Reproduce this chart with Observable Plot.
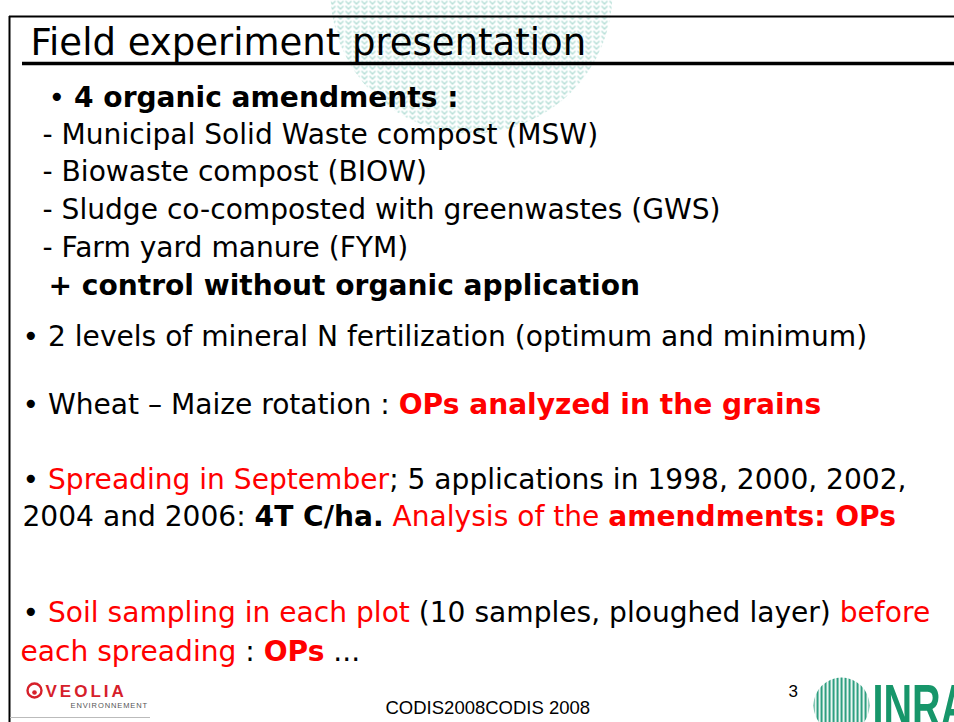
<!DOCTYPE html>
<html><head><meta charset="utf-8">
<script src="https://cdn.jsdelivr.net/npm/d3@7"></script>
<script src="https://cdn.jsdelivr.net/npm/@observablehq/plot@0.6"></script>
<style>body{margin:0;background:#fff;overflow:hidden} svg{display:block}</style>
</head><body><div id="chart"></div>
<script>
// ---------- slide content ----------
const titleText = "Field experiment presentation";
const amendmentHeader = "4 organic amendments :";
const amendments = [
  "Municipal Solid Waste compost (MSW)",
  "Biowaste compost (BIOW)",
  "Sludge co-composted with greenwastes (GWS)",
  "Farm yard manure (FYM)"
];
const controlText = "+ control without organic application";
// segments: [text, style]  k = black, kb = black bold, r = red, rb = red bold
const bulletLines = [
  [["• ", "k"], ["2 levels of mineral N fertilization (optimum and minimum)", "k"]],
  [["• Wheat – Maize rotation : ", "k"], ["OPs analyzed in the grains", "rb"]],
  [["• ", "k"], ["Spreading in September", "r"], ["; 5 applications in 1998, 2000, 2002,", "k"]],
  [["2004 and 2006: ", "k"], ["4T C/ha.", "kb"], [" Analysis of the ", "r"], ["amendments: OPs", "rb"]],
  [["• ", "k"], ["Soil sampling in each plot", "r"], [" (10 samples, ploughed layer) ", "k"], ["before", "r"]],
  [["each spreading", "r"], [" : ", "k"], ["OPs", "rb"], [" ...", "k"]]
];
const footerText = "CODIS2008CODIS 2008";
const pageNumber = "3";
const veoliaName = "VEOLIA";
const veoliaSub = "ENVIRONNEMENT";
const inraName = "INRA";

// ---------- layout (slide pixels) ----------
const W = 954, H = 722;
const bodySize = 28.1, titleSize = 37;
const bodyFont = "DejaVu Sans";
const lineLayout = [
  {x: 48, y: 106},   // header
  {x: 42, y: 143}, {x: 42, y: 180.5}, {x: 42, y: 218}, {x: 42, y: 256}, // amendments
  {x: 48, y: 294},  // control
  {x: 22, y: 345}, {x: 22, y: 413}, {x: 22, y: 488}, {x: 22, y: 525}, {x: 22, y: 621}, {x: 20, y: 660}
];
const colors = {k: "#000000", kb: "#000000", r: "#ff0000", rb: "#ff0000"};

// ---------- build segments ----------
const ctx = document.createElement("canvas").getContext("2d");
function measure(text, bold, size, family) {
  ctx.font = `${bold ? "bold " : ""}${size}px "${family}"`;
  return ctx.measureText(text).width;
}
const allLines = [
  [["• ", "k"], [amendmentHeader, "kb"]],
  ...amendments.map(t => [["- " + t, "k"]]),
  [[controlText, "kb"]],
  ...bulletLines
];
const segments = [];
allLines.forEach((line, i) => {
  let x = lineLayout[i].x;
  for (const [text, style] of line) {
    const bold = style.endsWith("b");
    const lead = text.match(/^\s*/)[0];
    const x0 = x + (lead ? measure(lead, bold, bodySize, bodyFont) : 0);
    segments.push({x: x0, y: lineLayout[i].y, text: text.trim(), bold, color: colors[style]});
    x += measure(text, bold, bodySize, bodyFont);
  }
});

const frame = {left: 9, top: 16, underline: 63, underlineStart: 22};

const plot = Plot.plot({
  width: W, height: H,
  margin: 0,
  x: {domain: [0, W], range: [0, W], axis: null},
  y: {domain: [0, H], range: [0, H], axis: null},
  color: {type: "identity"},
  style: {background: "white", overflow: "hidden"},
  marks: [
    // wheat watermark
    Plot.dot([{x: 471, y: -8}], {x: "x", y: "y", r: 141, fill: "url(#wheat)", stroke: "none"}),
    // frame
    Plot.ruleX([frame.left], {y1: frame.top, y2: H, stroke: "#000", strokeWidth: 2}),
    Plot.ruleY([frame.top], {x1: frame.left, x2: W, stroke: "#000", strokeWidth: 2}),
    Plot.ruleY([frame.underline], {x1: frame.underlineStart, x2: W, stroke: "#000", strokeWidth: 3.5}),
    // title
    Plot.text([titleText], {x: () => 30, y: () => 54, text: d => d, textAnchor: "start", lineAnchor: "bottom",
      fontSize: titleSize, fontFamily: bodyFont, fill: "#000"}),
    // body text
    Plot.text(segments.filter(d => !d.bold), {x: "x", y: "y", text: "text", fill: "color", textAnchor: "start",
      lineAnchor: "bottom", fontSize: bodySize, fontFamily: bodyFont}),
    Plot.text(segments.filter(d => d.bold), {x: "x", y: "y", text: "text", fill: "color", textAnchor: "start",
      lineAnchor: "bottom", fontSize: bodySize, fontFamily: bodyFont, fontWeight: "bold"}),
    // footer
    Plot.text([footerText], {x: () => 385, y: () => 713, text: d => d, textAnchor: "start", lineAnchor: "bottom",
      fontSize: 18.5, fontFamily: "Liberation Sans", fill: "#000"}),
    Plot.text([pageNumber], {x: () => 788, y: () => 696, text: d => d, textAnchor: "start", lineAnchor: "bottom",
      fontSize: 17, fontFamily: "Liberation Sans", fill: "#000"}),
    // INRA logo
    Plot.dot([{x: 841, y: 705}], {x: "x", y: "y", r: 28, fill: "url(#inraStripes)", stroke: "none"}),
    Plot.text([inraName], {x: () => 872, y: () => 725, text: d => d, textAnchor: "start", lineAnchor: "bottom",
      fontSize: 60, fontFamily: "Liberation Sans", fontWeight: "bold", fill: "#17966a"}),
    // VEOLIA logo
    Plot.dot([{x: 34, y: 690}], {x: "x", y: "y", r: 7, fill: "none", stroke: "#d6202a", strokeWidth: 2.4}),
    Plot.dot([{x: 34, y: 692}], {x: "x", y: "y", r: 2.3, fill: "#d6202a"}),
    Plot.text([veoliaName], {x: () => 45, y: () => 696, text: d => d, textAnchor: "start", lineAnchor: "bottom",
      fontSize: 17, fontFamily: "Liberation Sans", fontWeight: "bold", fill: "#d6202a"}),
    Plot.text([veoliaSub], {x: () => 70, y: () => 707, text: d => d, textAnchor: "start", lineAnchor: "bottom",
      fontSize: 7.5, fontFamily: "Liberation Sans", fill: "#555"}),
    Plot.ruleY([717], {x1: 10, x2: 150, stroke: "#bbb", strokeWidth: 1})
  ]
});

// logo letterforms: condense INRA, space out VEOLIA lettering
d3.select(plot).selectAll("text").each(function() {
  const t = this.textContent, el = d3.select(this);
  if (t === inraName) el.attr("transform", el.attr("transform") + " scale(0.66,1)");
  if (t === veoliaName) el.style("letter-spacing", "3px");
  if (t === veoliaSub) el.style("letter-spacing", "0.9px");
});

// patterns for watermark and logo
const defs = d3.create("svg:defs");
const p1 = defs.append("pattern").attr("id", "wheat").attr("patternUnits", "userSpaceOnUse")
  .attr("width", 8).attr("height", 5);
p1.append("path").attr("d", "M1,0.5 L4,3.5 L7,0.5").attr("fill", "none").attr("stroke", "#b3ddd5").attr("stroke-width", 1.4);
const p2 = defs.append("pattern").attr("id", "inraStripes").attr("patternUnits", "userSpaceOnUse")
  .attr("width", 4).attr("height", 4);
p2.append("rect").attr("width", 2.2).attr("height", 4).attr("fill", "#2e9f80");
plot.insertBefore(defs.node(), plot.firstChild);

document.getElementById("chart").append(plot);
</script>
</body></html>
